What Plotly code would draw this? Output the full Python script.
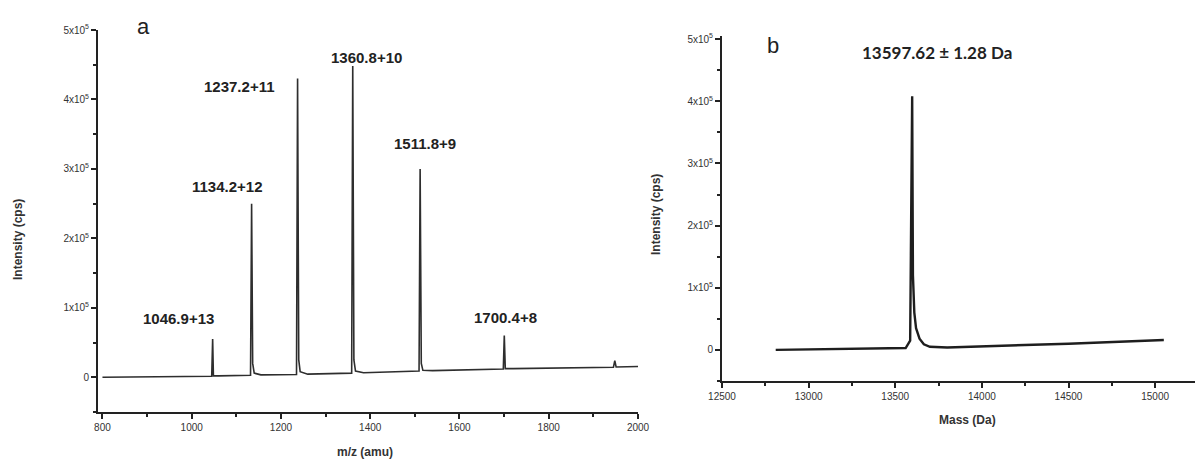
import plotly.graph_objects as go

# ---------------- data ----------------
# Panel a: ESI spectrum (m/z vs intensity, cps)
mz_a = [800, 1000, 1044.8, 1046.9, 1048.6, 1060,
        1131.8, 1134.2, 1136.6, 1140, 1155,
        1234.8, 1237.2, 1239.8, 1243, 1260,
        1358.4, 1360.8, 1363.4, 1367, 1385,
        1509.4, 1511.8, 1514.4, 1518, 1540,
        1698.2, 1700.4, 1702.6, 1720,
        1945, 1948, 1951, 2000]
int_a = [0, 1000, 1500, 55000, 2000, 2000,
         3000, 250000, 20000, 6000, 3500,
         4000, 430000, 25000, 8000, 4500,
         6000, 448000, 25000, 9000, 6500,
         9000, 300000, 20000, 10000, 9500,
         12000, 60000, 12500, 12500,
         14500, 24000, 14800, 15500]

peak_labels_a = ["1046.9+13", "1134.2+12", "1237.2+11", "1360.8+10", "1511.8+9", "1700.4+8"]
peak_label_x = [970, 1080, 1108, 1391, 1522, 1704]
peak_label_y = [85000, 274000, 418000, 461000, 337000, 86000]

# Panel b: deconvoluted mass spectrum
mass_b = [12810, 13000, 13300, 13560, 13586, 13591, 13597.62, 13602, 13610,
          13620, 13640, 13665, 13700, 13800, 14000, 14500, 15050]
int_b = [0, 1000, 2000, 3000, 15000, 150000, 408000, 120000, 60000,
         35000, 18000, 9000, 5000, 4000, 5500, 10000, 16000]

y_tickvals = [0, 100000, 200000, 300000, 400000, 500000]
y_ticktext = ["0", "1x10<sup>5</sup>", "2x10<sup>5</sup>", "3x10<sup>5</sup>",
              "4x10<sup>5</sup>", "5x10<sup>5</sup>"]
x_ticks_a = [800, 1000, 1200, 1400, 1600, 1800, 2000]
x_ticks_b = [12500, 13000, 13500, 14000, 14500, 15000]

# ---------------- figure ----------------
W, H = 1199, 461
fig = go.Figure()

fig.add_trace(go.Scatter(x=mz_a, y=int_a, mode="lines",
                         line=dict(color="#2e2e2e", width=1.6),
                         xaxis="x", yaxis="y", showlegend=False, hoverinfo="skip"))
fig.add_trace(go.Scatter(x=mass_b, y=int_b, mode="lines",
                         line=dict(color="#1e1e1e", width=2.4),
                         xaxis="x2", yaxis="y2", showlegend=False, hoverinfo="skip"))

axis_common = dict(showgrid=False, zeroline=False, showline=True, automargin=False,
                   linecolor="#222", linewidth=2, ticks="outside",
                   ticklen=5, tickwidth=1.5, tickcolor="#222",
                   tickfont=dict(family="Liberation Sans, Arial", size=10, color="#333"),
                   mirror=False)

fig.update_layout(
    width=W, height=H,
    margin=dict(l=0, r=0, t=0, b=0, autoexpand=False),
    paper_bgcolor="white", plot_bgcolor="white",
    xaxis=dict(domain=[98 / W, 638 / W], range=[790, 2000], anchor="y",
               tickvals=x_ticks_a, tickformat="d",
               minor=dict(dtick=100, ticklen=3, tickcolor="#222", ticks="outside"),
               **axis_common),
    yaxis=dict(domain=[1 - 412 / H, 1 - 30 / H], range=[-50000, 500000], anchor="x",
               tickvals=y_tickvals, ticktext=y_ticktext,
               minor=dict(dtick=50000, ticklen=3, tickcolor="#222", ticks="outside"),
               **axis_common),
    xaxis2=dict(domain=[722 / W, 1195 / W], range=[12500, 15230], anchor="y2",
                tickvals=x_ticks_b, tickformat="d",
                minor=dict(dtick=250, ticklen=3, tickcolor="#222", ticks="outside"),
                **axis_common),
    yaxis2=dict(domain=[1 - 381 / H, 1 - 36 / H], range=[-50000, 505000], anchor="x2",
                tickvals=y_tickvals, ticktext=y_ticktext,
                minor=dict(dtick=50000, ticklen=3, tickcolor="#222", ticks="outside"),
                **axis_common),
)

annots = []
for t, x, y in zip(peak_labels_a, peak_label_x, peak_label_y):
    annots.append(dict(text="<b>" + t + "</b>", x=x, y=y, xref="x", yref="y", showarrow=False,
                       font=dict(family="Liberation Sans, Arial", size=15, color="#222"),
                       xanchor="center", yanchor="middle"))
annots.append(dict(text="a", x=143 / W, y=1 - 26 / H, xref="paper", yref="paper", showarrow=False,
                   xanchor="center", yanchor="middle",
                   font=dict(family="Liberation Sans, Arial", size=22, color="#222")))
annots.append(dict(text="b", x=773 / W, y=1 - 45 / H, xref="paper", yref="paper", showarrow=False,
                   xanchor="center", yanchor="middle",
                   font=dict(family="Liberation Sans, Arial", size=22, color="#222")))
annots.append(dict(text="<b>13597.62 ± 1.28 Da</b>", x=937 / W, y=1 - 52 / H,
                   xref="paper", yref="paper", showarrow=False,
                   xanchor="center", yanchor="middle",
                   font=dict(family="Lato, Open Sans", size=17, color="#222")))
# axis titles
title_font = dict(family="Liberation Sans, Arial", size=12, color="#333")
annots.append(dict(text="<b>Intensity (cps)</b>", x=18 / W, y=1 - 240 / H, xref="paper", yref="paper",
                   textangle=-90, showarrow=False, xanchor="center", yanchor="middle",
                   font=title_font))
annots.append(dict(text="<b>Intensity (cps)</b>", x=656 / W, y=1 - 215 / H, xref="paper", yref="paper",
                   textangle=-90, showarrow=False, xanchor="center", yanchor="middle",
                   font=title_font))
annots.append(dict(text="<b>m/z (amu)</b>", x=365 / W, y=1 - 452 / H, xref="paper", yref="paper",
                   showarrow=False, xanchor="center", yanchor="middle",
                   font=title_font))
annots.append(dict(text="<b>Mass (Da)</b>", x=967 / W, y=1 - 420 / H, xref="paper", yref="paper",
                   showarrow=False, xanchor="center", yanchor="middle",
                   font=title_font))
fig.update_layout(annotations=annots)

fig.write_html("out.html")
